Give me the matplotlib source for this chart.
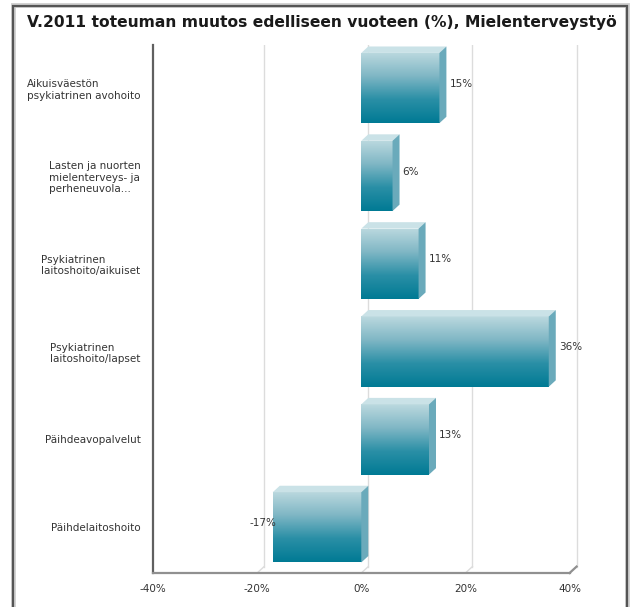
import numpy as np
import matplotlib
matplotlib.use("Agg")
import matplotlib.pyplot as plt
from matplotlib.patches import Polygon, Rectangle
from matplotlib.colors import LinearSegmentedColormap

title = "V.2011 toteuman muutos edelliseen vuoteen (%), Mielenterveystyö"
categories = [
    "Aikuisväestön\npsykiatrinen avohoito",
    "Lasten ja nuorten\nmielenterveys- ja\nperheneuvola...",
    "Psykiatrinen\nlaitoshoito/aikuiset",
    "Psykiatrinen\nlaitoshoito/lapset",
    "Päihdeavopalvelut",
    "Päihdelaitoshoito",
]
values = [15, 6, 11, 36, 13, -17]
xticks = [-40, -20, 0, 20, 40]
xticklabels = ["-40%", "-20%", "0%", "20%", "40%"]

W, H = 633, 607
fig = plt.figure(figsize=(W / 100, H / 100), dpi=100)
fig.patch.set_facecolor("white")

# outer frame
fig.add_artist(Rectangle((13 / W, -0.01), (627 - 13) / W, (H - 5) / H + 0.01,
                         transform=fig.transFigure, fill=False,
                         edgecolor="#d0d0d0", lw=3.5))
fig.add_artist(Rectangle((13 / W, -0.01), (627 - 13) / W, (H - 6) / H + 0.01,
                         transform=fig.transFigure, fill=False,
                         edgecolor="#555555", lw=1.6))

fig.text(322 / W, 1 - 22 / H, title, ha="center", va="center",
         fontsize=11.2, fontweight="bold", color="#1a1a1a")

ax_l, ax_r = 153, 580
ax_t, ax_b = 45, 573
ax = fig.add_axes([ax_l / W, 1 - ax_b / H, (ax_r - ax_l) / W, (ax_b - ax_t) / H])
ax.set_xlim(-40, 42)
n = len(categories)
ax.set_ylim(n - 0.5 + 0.02, -0.5 + 0.01)
for s in ax.spines.values():
    s.set_visible(False)

# 3D depth in data units
dx = 7 / ((ax_r - ax_l) / 82)
dy = 7 / ((ax_b - ax_t) / (n - 0.48))
ybot = n - 0.5 + 0.02
ytop = -0.5 + 0.01

# back-wall gridlines
for t in xticks[1:]:
    ax.plot([t + dx, t + dx], [ytop, ybot - dy], color="#dcdcdc", lw=1.0, zorder=1)
    ax.plot([t, t + dx], [ybot, ybot - dy], color="#dcdcdc", lw=1.0, zorder=1)
# axes lines
ax.plot([-40, -40], [ytop, ybot], color="#606060", lw=1.6, zorder=2, clip_on=False)
ax.plot([-40, 40], [ybot, ybot], color="#909090", lw=1.6, zorder=2, clip_on=False)
ax.plot([40, 40 + dx], [ybot, ybot - dy], color="#909090", lw=1.6, zorder=2, clip_on=False)

bars = ax.barh(range(n), values, height=0.8, color="none", edgecolor="none", zorder=3)

cmap = LinearSegmentedColormap.from_list("g", ["#bcd9df", "#80b7c5", "#2a8fa6", "#007a94"])
grad = np.linspace(0, 1, 256).reshape(-1, 1)
for b, v in zip(bars, values):
    x0, y0 = b.get_x(), b.get_y()
    w, h = b.get_width(), b.get_height()
    xl, xr = min(x0, x0 + w), max(x0, x0 + w)
    yt, yb = y0, y0 + h
    # front face with gradient
    im = ax.imshow(grad, extent=[xl, xr, yb, yt], cmap=cmap, aspect="auto",
                   zorder=3, interpolation="bilinear")
    rect = Rectangle((xl, yt), xr - xl, h, transform=ax.transData)
    im.set_clip_path(rect)
    # top face
    top = Polygon([[xl, yt], [xl + dx, yt - dy], [xr + dx, yt - dy], [xr, yt]],
                  closed=True, facecolor="#cae2e7", edgecolor="none", zorder=4)
    ax.add_patch(top)
    # right side face
    side = Polygon([[xr, yt], [xr + dx, yt - dy], [xr + dx, yb - dy], [xr, yb]],
                   closed=True, facecolor="#6aaabb", edgecolor="none", zorder=4)
    ax.add_patch(side)
    # value label
    if v >= 0:
        ax.text(xr + dx + 0.6, y0 + h / 2 - 0.05, f"{v}%", ha="left", va="center",
                fontsize=7.5, color="#333333", zorder=5)
    else:
        ax.text(xl + 0.6, y0 + h / 2 - 0.05, f"{v}%", ha="right", va="center",
                fontsize=7.5, color="#333333", zorder=5)

ax.set_yticks(range(n))
ax.set_yticklabels(categories, fontsize=7.5, color="#333333", multialignment="left")
ax.set_xticks(xticks)
ax.set_xticklabels(xticklabels, fontsize=7.5, color="#333333")
ax.tick_params(axis="both", length=0)
ax.tick_params(axis="y", pad=9)
ax.tick_params(axis="x", pad=8)

fig.savefig("out.png", dpi=100, facecolor="white")
